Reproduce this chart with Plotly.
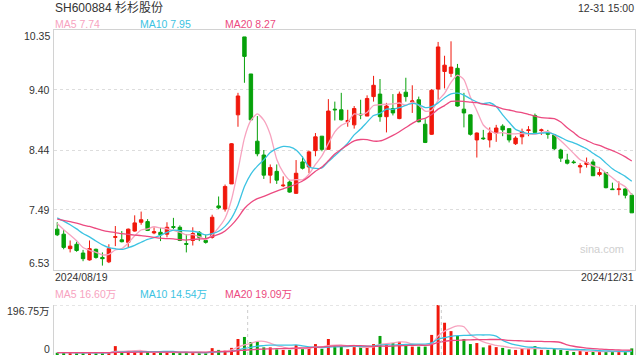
import plotly.graph_objects as go

# ---------------- data ----------------
first_date = "2024/08/19"
last_date = "2024/12/31"

opens = [7.18, 7.10, 6.87, 6.94, 6.80, 6.69, 6.86, 6.73, 6.66, 7.05,
         7.01, 6.97, 7.15, 7.29, 7.30, 7.12, 7.13, 7.10, 7.22, 7.21,
         6.95, 7.00, 7.13, 7.00, 7.05, 7.55, 7.50, 7.90, 9.00, 10.24,
         9.65, 8.58, 8.36, 8.04, 8.10, 7.87, 7.93, 7.75, 8.25, 8.17,
         8.43, 8.66, 8.45, 9.09, 9.08, 8.89, 8.84, 9.01, 8.98, 9.29,
         9.33, 8.97, 9.10, 8.94, 9.36, 9.21, 9.24, 8.85, 8.69, 9.41,
         9.69, 9.66, 9.74, 9.09, 9.00, 8.60, 8.63, 8.60, 8.71, 8.82,
         8.78, 8.54, 8.65, 8.75, 8.99, 8.75, 8.72, 8.68, 8.44, 8.28,
         8.25, 8.17, 8.21, 8.25, 8.05, 8.08, 7.82, 7.81, 7.82, 7.72]
highs = [7.29, 7.17, 7.00, 6.98, 6.85, 7.00, 6.87, 6.81, 6.94, 7.23,
         7.15, 7.19, 7.40, 7.46, 7.34, 7.21, 7.20, 7.29, 7.36, 7.24,
         7.10, 7.21, 7.15, 7.09, 7.41, 7.70, 7.89, 8.55, 9.35, 10.24,
         9.65, 8.98, 8.44, 8.21, 8.21, 8.02, 7.96, 8.28, 8.34, 8.43,
         8.71, 8.66, 9.25, 9.21, 9.35, 9.08, 9.14, 9.24, 9.31, 9.62,
         9.57, 9.19, 9.33, 9.37, 9.59, 9.47, 9.29, 8.93, 9.41, 10.16,
         9.94, 10.17, 9.81, 9.35, 9.00, 8.72, 8.76, 8.80, 8.84, 8.85,
         8.78, 8.66, 8.78, 8.82, 9.02, 8.78, 8.76, 8.69, 8.46, 8.38,
         8.28, 8.23, 8.32, 8.29, 8.17, 8.08, 7.92, 7.94, 7.83, 7.75]
lows = [7.07, 6.86, 6.81, 6.82, 6.67, 6.68, 6.71, 6.60, 6.64, 6.91,
        6.97, 6.89, 7.14, 7.25, 7.15, 7.10, 6.99, 7.05, 7.18, 6.99,
        6.81, 6.92, 6.99, 6.95, 7.03, 7.50, 7.46, 7.90, 8.81, 9.51,
        8.92, 8.34, 7.98, 7.91, 7.90, 7.85, 7.76, 7.74, 8.13, 8.07,
        8.34, 8.42, 8.45, 8.91, 8.91, 8.81, 8.78, 8.93, 8.98, 9.21,
        8.89, 8.72, 8.99, 8.93, 9.21, 9.03, 8.88, 8.55, 8.68, 9.24,
        9.42, 9.60, 9.13, 8.80, 8.67, 8.32, 8.60, 8.48, 8.57, 8.66,
        8.56, 8.52, 8.53, 8.66, 8.71, 8.68, 8.62, 8.44, 8.25, 8.21,
        8.22, 8.07, 8.16, 8.03, 8.02, 7.83, 7.81, 7.72, 7.67, 7.44]
closes = [7.09, 6.89, 6.91, 6.84, 6.71, 6.87, 6.73, 6.71, 6.87, 7.06,
          6.98, 7.18, 7.28, 7.33, 7.16, 7.14, 7.09, 7.21, 7.21, 7.00,
          6.94, 7.11, 7.05, 6.97, 7.37, 7.52, 7.86, 8.54, 9.30, 9.93,
          8.92, 8.38, 8.04, 8.16, 7.96, 7.88, 7.77, 8.07, 8.15, 8.41,
          8.65, 8.45, 9.06, 9.08, 8.92, 8.91, 9.10, 9.00, 9.26, 9.47,
          8.97, 9.14, 9.03, 9.33, 9.29, 9.22, 8.89, 8.56, 9.39, 10.08,
          9.79, 9.76, 9.14, 9.03, 8.69, 8.71, 8.62, 8.71, 8.79, 8.76,
          8.60, 8.63, 8.73, 8.76, 8.72, 8.76, 8.69, 8.46, 8.31, 8.23,
          8.24, 8.19, 8.24, 8.03, 8.08, 7.84, 7.81, 7.82, 7.72, 7.44]
# closes of the 19 sessions before the window (needed for the moving averages)
pre_closes = [7.30, 7.28, 7.35, 7.33, 7.30, 7.36, 7.31, 7.29, 7.34, 7.34,
              7.42, 7.48, 7.50, 7.44, 7.41, 7.38, 7.33, 7.30, 7.25]

# volume, in 万
volumes = [9, 8, 8, 7, 9, 10, 8, 8, 10, 35,
           12, 14, 13, 14, 12, 8, 10, 12, 9, 9,
           9, 8, 9, 8, 27, 20, 18, 28, 63, 71,
           51, 53, 30, 30, 22, 20, 20, 39, 24, 29,
           43, 24, 63, 36, 34, 23, 31, 30, 32, 43,
           75, 41, 47, 52, 39, 33, 33, 33, 79, 196.75,
           127, 94, 75, 63, 43, 47, 30, 38, 31, 28,
           22, 20, 25, 25, 35, 20, 20, 24, 20, 16,
           12, 17, 12, 14, 12, 14, 13, 14, 13, 26]
pre_volumes = [10, 9, 11, 8, 9, 10, 12, 9, 8, 10, 9, 11, 10, 9, 8, 10, 9, 11, 9]

price_ticks = [10.35, 9.40, 8.44, 7.49, 6.53]
vol_max = 196.75

price_legend = ["MA5 7.74", "MA10 7.95", "MA20 8.27"]
vol_legend = ["MA5 16.60万", "MA10 14.54万", "MA20 19.09万"]
title_text = "SH600884 杉杉股份"
time_text = "12-31 15:00"

# ---------------- styles ----------------
RED = "#F0180C"
GREEN = "#06A10A"
C_MA5 = "#F7A3BF"
C_MA10 = "#3CC3E2"
C_MA20 = "#EC4A80"
FONT = "Liberation Sans, Arial, Noto Sans CJK SC, sans-serif"
TXT = "#333333"

x = list(range(len(closes)))


def moving_avg(series, pre, n):
    full = list(pre) + list(series)
    off = len(pre)
    return [sum(full[off + i - n + 1: off + i + 1]) / n for i in range(len(series))]


fig = go.Figure()
fig.add_trace(go.Candlestick(
    x=x, open=opens, high=highs, low=lows, close=closes,
    increasing=dict(line=dict(color=RED, width=1), fillcolor=RED),
    decreasing=dict(line=dict(color=GREEN, width=1), fillcolor=GREEN),
    whiskerwidth=0, xaxis="x", yaxis="y", hoverinfo="skip"))

for n, col in [(5, C_MA5), (10, C_MA10), (20, C_MA20)]:
    fig.add_trace(go.Scatter(x=x, y=moving_avg(closes, pre_closes, n), mode="lines",
                             line=dict(color=col, width=1.3, shape="spline", smoothing=0.6),
                             xaxis="x", yaxis="y", hoverinfo="skip"))

vcolors = [RED if c >= o else GREEN for o, c in zip(opens, closes)]
fig.add_trace(go.Bar(x=x, y=volumes, marker=dict(color=vcolors, line=dict(width=0)),
                     width=0.46, xaxis="x2", yaxis="y2", hoverinfo="skip"))
for n, col in [(5, C_MA5), (10, C_MA10), (20, C_MA20)]:
    fig.add_trace(go.Scatter(x=x, y=moving_avg(volumes, pre_volumes, n), mode="lines",
                             line=dict(color=col, width=1.3, shape="spline", smoothing=0.6),
                             xaxis="x2", yaxis="y2", hoverinfo="skip"))

# pixel helpers for text placement (plot area spans x 54..635, y 30..355)
def px(v):
    return (v - 54) / 581.0


def py(v):
    return (355 - v) / 325.0


ann = []


def text(t, xp, yp, anchor="left", size=10.5, color=TXT):
    ann.append(dict(text=t, x=px(xp), y=py(yp), xref="paper", yref="paper",
                    xanchor=anchor, yanchor="middle", showarrow=False,
                    font=dict(family=FONT, size=size, color=color), borderpad=0))


text(title_text, 54, 8, size=12)
text(time_text, 635, 8, anchor="right")
for t, xp, col in zip(price_legend, [54, 139, 224], [C_MA5, C_MA10, C_MA20]):
    text(t, xp, 24, color=col)
for t, xp, col in zip(vol_legend, [54, 139, 224], [C_MA5, C_MA10, C_MA20]):
    text(t, xp, 294, color=col)
text(first_date, 54, 277)
text(last_date, 635, 277, anchor="right")
# y tick labels (top and bottom are pulled inside the frame as in the reference)
tick_px = [35.5, 90, 150, 210, 263]
for v, yp in zip(price_ticks, tick_px):
    text("%.2f" % v, 51, yp, anchor="right")
text("%.2f万" % vol_max, 51, 311, anchor="right")
text("0", 51, 349, anchor="right")
text("sina.com", 602, 249, anchor="center", size=11, color="#cfcfcf")

shapes = [
    dict(type="line", xref="paper", yref="y2", x0=0, x1=1, y0=vol_max, y1=vol_max,
         line=dict(color="#cccccc", width=1, dash="dot")),
    dict(type="line", xref="x2", yref="y2", x0=29.5, x1=29.5, y0=0, y1=vol_max,
         line=dict(color="#cccccc", width=1, dash="dot")),
    dict(type="line", xref="x2", yref="y2", x0=59.5, x1=59.5, y0=0, y1=vol_max,
         line=dict(color="#cccccc", width=1, dash="dot")),
]

fig.update_layout(
    width=640, height=360, margin=dict(l=54, r=5, t=30, b=5),
    paper_bgcolor="white", plot_bgcolor="white", showlegend=False,
    boxgap=0.24, bargap=0.5,
    xaxis=dict(domain=[0, 1], range=[-0.5, 89.5], anchor="y", showgrid=False, showticklabels=False,
               zeroline=False, showline=True, linecolor="#d2d2d2", mirror=True, ticks="",
               rangeslider=dict(visible=False), fixedrange=True),
    yaxis=dict(domain=[py(270), 1], range=[price_ticks[-1], price_ticks[0]], anchor="x",
               tickvals=price_ticks[1:-1], showgrid=True, gridcolor="#dddddd", griddash="dot",
               gridwidth=1, showticklabels=False, showline=True, linecolor="#d2d2d2", mirror=True,
               zeroline=False, ticks=""),
    xaxis2=dict(domain=[0, 1], range=[-0.5, 89.5], anchor="y2", showgrid=False, showticklabels=False,
                zeroline=False, showline=False, ticks=""),
    yaxis2=dict(domain=[0, py(305)], range=[0, vol_max], anchor="x2", showgrid=False,
                showticklabels=False, showline=True, linecolor="#d2d2d2", mirror=True,
                zeroline=False, ticks=""),
    annotations=ann, shapes=shapes,
)

fig.write_html("out.html")
